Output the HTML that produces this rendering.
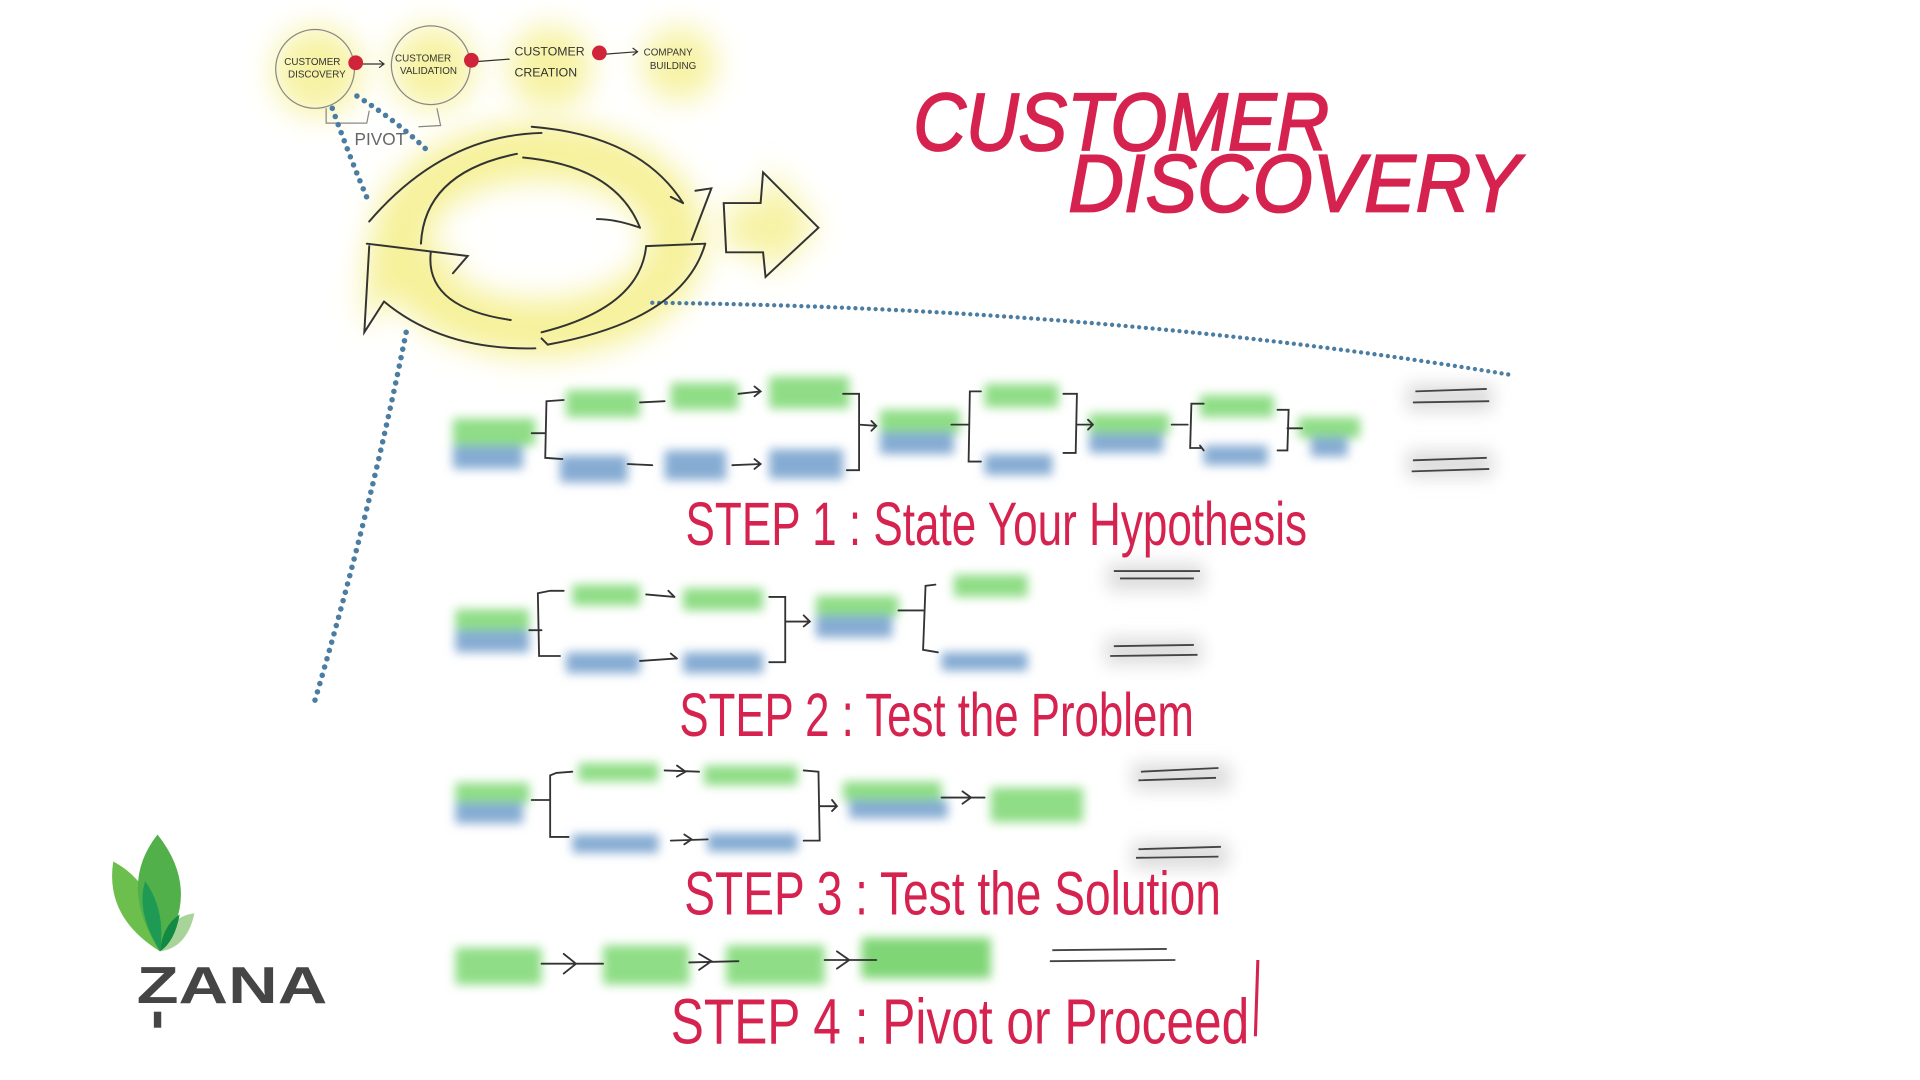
<!DOCTYPE html>
<html><head><meta charset="utf-8"><style>
html,body{margin:0;padding:0;background:#fff;width:1920px;height:1080px;overflow:hidden}
svg{display:block}
.hand{font-family:"Liberation Sans Narrow","Liberation Sans",sans-serif;fill:#d5224f}
</style></head><body>
<svg width="1920" height="1080" viewBox="0 0 1560 877.5" preserveAspectRatio="none" xmlns="http://www.w3.org/2000/svg">
<defs>
<filter id="b" x="-30%" y="-60%" width="160%" height="220%"><feGaussianBlur stdDeviation="4"/></filter>
<filter id="bb" x="-50%" y="-50%" width="200%" height="200%"><feGaussianBlur stdDeviation="12"/></filter>
<filter id="bs" x="-30%" y="-60%" width="160%" height="220%"><feGaussianBlur stdDeviation="7"/></filter>
</defs>
<rect width="1560" height="878" fill="#fff"/>

<!-- glows -->
<g filter="url(#bb)" fill="#f6f19a" opacity="0.9">
<circle cx="258" cy="58" r="36"/><circle cx="352" cy="55" r="34"/><circle cx="447" cy="55" r="34"/><circle cx="552" cy="52" r="30"/>
<path d="M590 165 L620 165 L625 135 L665 185 L625 225 L620 205 L590 205Z"/>
</g>
<g filter="url(#bb)">
<ellipse cx="438" cy="195" rx="112" ry="72" fill="none" stroke="#f6f19a" stroke-width="46"/>
<path d="M298 198 L380 208 L312 245 L296 270Z" fill="#f6f19a"/>
</g>
<g fill="none" stroke="#888" stroke-width="1">
<circle cx="256" cy="56" r="32"/><circle cx="350" cy="53" r="32"/>
<path d="M265 88 L265 100 L298 100 L300 90"/><path d="M355 88 L358 102 L340 103"/>
</g>
<g font-family="Liberation Sans Narrow,Liberation Sans,sans-serif" font-size="8" fill="#333">
<text x="231" y="53">CUSTOMER</text><text x="234" y="63">DISCOVERY</text>
<text x="321" y="50">CUSTOMER</text><text x="325" y="60">VALIDATION</text>
<text x="418" y="45" font-size="10">CUSTOMER</text><text x="418" y="62" font-size="10">CREATION</text>
<text x="523" y="45">COMPANY</text><text x="528" y="56">BUILDING</text>
<text x="288" y="118" font-size="14" fill="#666">PIVOT</text>
</g>
<g stroke="#333" stroke-width="1" fill="none">
<path d="M294 52 L312 52 M308 49 L312 52 L308 55"/><path d="M388 50 L414 48"/><path d="M492 44 L518 42 M514 39 L518 42 L514 45"/>
</g>
<g fill="#d0243a"><circle cx="289" cy="51" r="6"/><circle cx="383" cy="49" r="6"/><circle cx="487" cy="43" r="6"/></g>

<!-- dotted lines -->
<g fill="none" stroke="#4b7ca2" stroke-width="4.5" stroke-linecap="round" stroke-dasharray="0 7">
<path d="M270 88 Q285 130 300 165"/>
<path d="M290 78 Q325 100 350 125"/>
<path d="M330 270 Q300 420 255 572"/>
<path d="M530 246 Q900 250 1230 305" stroke-width="3.5" stroke-dasharray="0 5.5"/>
</g>

<!-- cycle arrows -->
<g fill="none" stroke="#333" stroke-width="1.6" stroke-linecap="round">
<path d="M300 180 Q360 110 440 108"/>
<path d="M432 103 Q520 110 555 165"/>
<path d="M565 155 L578 153 L562 195"/>
<path d="M555 165 L545 160"/>
<path d="M342 198 Q345 140 420 125"/>
<path d="M425 128 Q500 135 520 185"/>
<path d="M520 185 Q500 178 485 178"/>
<path d="M525 200 L573 198"/>
<path d="M525 200 Q520 250 440 270"/>
<path d="M573 198 Q555 260 445 280"/>
<path d="M445 280 L440 275"/>
<path d="M350 205 Q345 250 415 260"/>
<path d="M298 198 L380 208 L368 222"/>
<path d="M300 200 L296 270 L312 245"/>
<path d="M312 245 Q360 285 435 283"/>
<path d="M588 165 L618 165 L620 140 L665 185 L622 225 L620 205 L590 205 Z"/>
</g>

<!-- title -->
<text class="hand" x="742" y="122" font-size="66" font-style="italic" stroke="#d5224f" stroke-width="1.5" textLength="338" lengthAdjust="spacingAndGlyphs">CUSTOMER</text>
<text class="hand" x="868" y="172" font-size="66" font-style="italic" stroke="#d5224f" stroke-width="1.5" textLength="367" lengthAdjust="spacingAndGlyphs">DISCOVERY</text>

<!-- Row 1 bars -->
<g filter="url(#b)">
<g fill="#8fdd86">
<rect x="368" y="340" width="67" height="22"/><rect x="460" y="317" width="60" height="22"/><rect x="545" y="311" width="55" height="22"/><rect x="625" y="306" width="65" height="26"/>
<rect x="715" y="333" width="65" height="19"/><rect x="800" y="312" width="60" height="19"/><rect x="885" y="336" width="65" height="17"/><rect x="975" y="321" width="60" height="18"/><rect x="1055" y="339" width="50" height="17"/>
</g>
<g fill="#86acd3">
<rect x="368" y="362" width="57" height="19"/><rect x="455" y="370" width="55" height="22"/><rect x="540" y="366" width="50" height="24"/><rect x="625" y="365" width="60" height="24"/>
<rect x="715" y="351" width="60" height="18"/><rect x="800" y="369" width="55" height="17"/><rect x="885" y="352" width="60" height="16"/><rect x="978" y="362" width="52" height="16"/><rect x="1065" y="355" width="30" height="16"/>
</g>
</g>
<!-- Row 2 bars -->
<g filter="url(#b)">
<g fill="#8fdd86">
<rect x="370" y="495" width="60" height="18"/><rect x="465" y="475" width="55" height="17"/><rect x="555" y="478" width="65" height="18"/><rect x="663" y="484" width="67" height="17"/><rect x="775" y="467" width="60" height="18"/>
</g>
<g fill="#86acd3">
<rect x="370" y="512" width="60" height="18"/><rect x="460" y="530" width="60" height="17"/><rect x="555" y="530" width="65" height="17"/><rect x="663" y="500" width="62" height="18"/><rect x="765" y="530" width="70" height="15"/>
</g>
</g>
<!-- Row 3 bars -->
<g filter="url(#b)">
<g fill="#8fdd86">
<rect x="370" y="636" width="60" height="17"/><rect x="470" y="620" width="65" height="15"/><rect x="572" y="622" width="76" height="16"/><rect x="685" y="635" width="80" height="16"/><rect x="805" y="640" width="75" height="28"/>
</g>
<g fill="#86acd3">
<rect x="370" y="652" width="55" height="17"/><rect x="465" y="678" width="70" height="15"/><rect x="575" y="677" width="73" height="15"/><rect x="690" y="650" width="80" height="15"/>
</g>
</g>
<!-- Row 4 bars -->
<g filter="url(#b)" fill="#8fdd86">
<rect x="370" y="770" width="70" height="30"/><rect x="490" y="768" width="70" height="32"/><rect x="590" y="768" width="80" height="32"/><rect x="700" y="762" width="105" height="33" fill="#7fd676"/>
</g>

<!-- gray double lines with shadows -->
<g filter="url(#bs)" fill="#ddd">
<rect x="1143" y="312" width="70" height="22"/><rect x="1143" y="366" width="70" height="22"/>
<rect x="900" y="458" width="78" height="22"/><rect x="898" y="518" width="78" height="22"/>
<rect x="920" y="620" width="80" height="22"/><rect x="920" y="684" width="78" height="22"/>
</g>
<g stroke="#444" stroke-width="1.5" fill="none">
<path d="M1150 318 L1208 316 M1148 327 L1210 326"/><path d="M1148 374 L1208 372 M1147 383 L1210 381"/>
<path d="M905 464 L975 464 M910 470 L970 470"/><path d="M905 525 L970 524 M902 533 L973 532"/>
<path d="M927 627 L990 624 M925 634 L988 632"/><path d="M925 690 L992 688 M923 697 L990 696"/>
<path d="M855 772 L948 771 M853 781 L955 780"/>
</g>

<!-- brackets and arrows -->
<g stroke="#333" stroke-width="1.5" fill="none" stroke-linecap="round">
<path d="M458 325 L444 326 L443 372 L457 373 M432 352 L443 352"/>
<path d="M520 327 L540 326 M600 320 L618 318 M613 314 L618 318 L613 322"/>
<path d="M510 377 L530 378 M595 378 L618 377 M613 373 L618 377 L613 381"/>
<path d="M685 320 L698 320 L698 382 L688 382 M698 345 L712 346 M708 342 L712 346 L708 350"/>
<path d="M797 318 L788 318 L787 375 L797 375 M773 345 L787 345"/>
<path d="M864 320 L875 320 L874 368 L864 368 M875 345 L888 345 M884 341 L888 345 L884 349"/>
<path d="M952 345 L965 345 M978 328 L968 328 L967 364 L976 364 M975 362 L978 366"/>
<path d="M1038 333 L1047 333 L1046 366 L1038 366 M1046 348 L1058 348"/>
<path d="M458 480 L447 480 L437 482 L438 533 L455 533 M430 512 L440 512"/>
<path d="M525 483 L548 485 M543 480 L548 485 M520 537 L550 535 M545 531 L550 535"/>
<path d="M625 485 L638 485 L638 538 L625 538 M638 505 L658 505 M653 500 L658 505 L653 509"/>
<path d="M730 496 L750 496 M760 475 L752 476 L750 528 L762 530"/>
<path d="M465 627 L452 628 L447 630 L447 680 L462 680 M432 650 L447 650"/>
<path d="M540 626 L568 627 M550 622 L557 627 L550 631 M545 683 L575 682 M556 678 L562 682 L556 686"/>
<path d="M653 626 L665 627 L666 683 L653 683 M666 655 L680 655 M676 650 L680 655 L676 659"/>
<path d="M765 648 L800 648 M782 643 L789 648 L782 653"/>
<path d="M440 783 L490 783 M458 775 L468 783 L458 791"/>
<path d="M560 782 L600 781 M568 775 L578 781 L568 788"/>
<path d="M670 780 L712 780 M680 773 L690 780 L680 787"/>
</g>

<!-- step labels -->
<text class="hand" x="557" y="443" font-size="50" textLength="505" lengthAdjust="spacingAndGlyphs">STEP 1 : State Your Hypothesis</text>
<text class="hand" x="552" y="598" font-size="50" textLength="418" lengthAdjust="spacingAndGlyphs">STEP 2 : Test the Problem</text>
<text class="hand" x="556" y="743" font-size="50" textLength="436" lengthAdjust="spacingAndGlyphs">STEP 3 : Test the Solution</text>
<text class="hand" x="545" y="848" font-size="52" textLength="470" lengthAdjust="spacingAndGlyphs">STEP 4 : Pivot or Proceed</text>
<path d="M1022 780 L1020 842" stroke="#d5224f" stroke-width="2.5" fill="none"/>

<!-- ZANA logo -->
<g>
<path d="M130 773 Q85 745 92 700 Q130 720 130 773Z" fill="#6cbf4c"/>
<path d="M130 773 Q95 720 128 678 Q165 725 130 773Z" fill="#52b04a"/>
<path d="M130 773 Q135 745 158 742 Q152 770 130 773Z" fill="#a8d49a"/>
<path d="M130 773 Q110 740 118 716 Q135 740 130 773Z" fill="#1f9a55"/>
<path d="M130 773 Q132 752 146 743 Q142 765 130 773Z" fill="#138a44"/>
<text x="111" y="815" font-family="Liberation Sans,sans-serif" font-weight="bold" font-size="42" fill="#454545" textLength="155" lengthAdjust="spacingAndGlyphs">ZANA</text>
<rect x="125" y="822" width="6" height="13" fill="#454545"/>
</g>
</svg>
</body></html>
